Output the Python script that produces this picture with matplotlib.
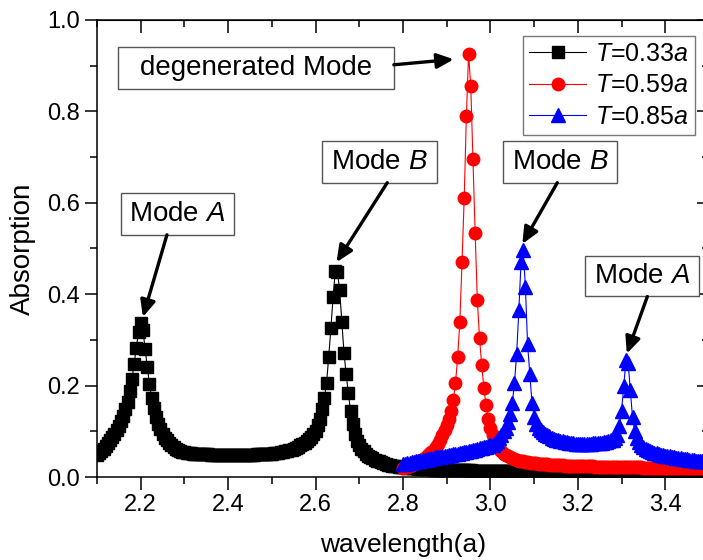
import matplotlib
matplotlib.use('Agg')
import matplotlib.pyplot as plt
from matplotlib.ticker import MultipleLocator
from matplotlib.patches import Rectangle
import numpy as np

plt.rcParams['font.family'] = ['Liberation Sans', 'DejaVu Sans']
plt.rcParams['mathtext.fontset'] = 'custom'
plt.rcParams['mathtext.rm'] = 'Liberation Sans'
plt.rcParams['mathtext.it'] = 'Liberation Sans:italic'

# sampling of the spectra (wavelength in units of a)
wl_step = 0.005
black_start = 2.100
red_start = 2.800
blue_start = 2.800

# T = 0.33a
absorb_033 = [
    0.048, 0.052, 0.056, 0.062, 0.068, 0.074, 0.080, 0.087, 0.094, 0.103,
    0.112, 0.122, 0.134, 0.148, 0.165, 0.188, 0.214, 0.248, 0.283, 0.318,
    0.338, 0.322, 0.280, 0.240, 0.204, 0.172, 0.150, 0.131, 0.116, 0.104,
    0.094, 0.086, 0.080, 0.074, 0.069, 0.065, 0.062, 0.059, 0.057, 0.055,
    0.054, 0.053, 0.052, 0.052, 0.051, 0.051, 0.051, 0.050, 0.050, 0.050,
    0.050, 0.050, 0.049, 0.049, 0.049, 0.049, 0.049, 0.049, 0.049, 0.049,
    0.049, 0.049, 0.049, 0.049, 0.049, 0.049, 0.049, 0.049, 0.049, 0.049,
    0.049, 0.049, 0.049, 0.050, 0.050, 0.050, 0.050, 0.050, 0.051, 0.051,
    0.051, 0.052, 0.052, 0.053, 0.054, 0.055, 0.056, 0.057, 0.058, 0.060,
    0.062, 0.064, 0.066, 0.069, 0.072, 0.075, 0.079, 0.083, 0.088, 0.094,
    0.100, 0.113, 0.128, 0.148, 0.172, 0.205, 0.262, 0.325, 0.393, 0.450,
    0.448, 0.410, 0.340, 0.272, 0.225, 0.183, 0.145, 0.115, 0.094, 0.079,
    0.070, 0.062, 0.056, 0.051, 0.047, 0.044, 0.041, 0.038, 0.036, 0.034,
    0.032, 0.030, 0.029, 0.027, 0.026, 0.025, 0.024, 0.023, 0.022, 0.022,
    0.021, 0.021, 0.020, 0.020, 0.019, 0.019, 0.019, 0.018, 0.018, 0.018,
    0.017, 0.017, 0.017, 0.017, 0.016, 0.016, 0.016, 0.016, 0.016, 0.015,
    0.015, 0.015, 0.015, 0.015, 0.015, 0.015, 0.015, 0.015, 0.015, 0.015,
    0.015, 0.015, 0.014, 0.014, 0.014, 0.014, 0.014, 0.014, 0.014, 0.014,
    0.014, 0.014, 0.014, 0.014, 0.014, 0.013, 0.013, 0.013, 0.013, 0.013,
    0.013, 0.013, 0.013, 0.013, 0.013, 0.013, 0.013, 0.013, 0.013, 0.013,
    0.013, 0.013, 0.013, 0.013, 0.013, 0.012, 0.012, 0.012, 0.012, 0.012,
    0.012, 0.012, 0.012, 0.012, 0.012, 0.012, 0.012, 0.012, 0.012, 0.012,
    0.012, 0.012, 0.012, 0.012, 0.012, 0.012, 0.012, 0.012, 0.012, 0.012,
    0.012, 0.012, 0.012, 0.012, 0.012, 0.011, 0.011, 0.011, 0.011, 0.011,
    0.011, 0.011, 0.011, 0.011, 0.011, 0.011, 0.011, 0.011, 0.011, 0.011,
    0.011, 0.011, 0.011, 0.011, 0.011, 0.011, 0.011, 0.011, 0.011, 0.011,
    0.011, 0.011, 0.011, 0.011, 0.011, 0.010, 0.010, 0.010, 0.010, 0.010,
    0.010, 0.010, 0.010, 0.010, 0.010, 0.010, 0.010, 0.010, 0.010, 0.010,
    0.010,
]

# T = 0.59a
absorb_059 = [
    0.020, 0.021, 0.022, 0.024, 0.026, 0.028, 0.031, 0.033, 0.036, 0.039,
    0.042, 0.046, 0.050, 0.055, 0.060, 0.066, 0.073, 0.081, 0.091, 0.102,
    0.114, 0.128, 0.145, 0.168, 0.205, 0.262, 0.340, 0.470, 0.610, 0.790,
    0.925, 0.856, 0.695, 0.535, 0.388, 0.305, 0.245, 0.195, 0.157, 0.128,
    0.108, 0.092, 0.080, 0.070, 0.062, 0.056, 0.051, 0.048, 0.045, 0.043,
    0.041, 0.039, 0.038, 0.036, 0.035, 0.034, 0.033, 0.032, 0.031, 0.031,
    0.030, 0.030, 0.029, 0.029, 0.028, 0.028, 0.028, 0.027, 0.027, 0.027,
    0.026, 0.026, 0.026, 0.026, 0.025, 0.025, 0.025, 0.025, 0.024, 0.024,
    0.024, 0.024, 0.024, 0.023, 0.023, 0.023, 0.023, 0.023, 0.022, 0.022,
    0.022, 0.022, 0.022, 0.022, 0.021, 0.021, 0.021, 0.021, 0.021, 0.021,
    0.021, 0.021, 0.021, 0.021, 0.021, 0.021, 0.021, 0.021, 0.021, 0.021,
    0.020, 0.020, 0.020, 0.020, 0.020, 0.020, 0.020, 0.020, 0.020, 0.020,
    0.020, 0.020, 0.020, 0.020, 0.020, 0.020, 0.020, 0.020, 0.020, 0.020,
    0.019, 0.019, 0.019, 0.019, 0.019, 0.019, 0.019, 0.019, 0.019, 0.019,
    0.019,
]

# T = 0.85a
absorb_085 = [
    0.028, 0.029, 0.030, 0.031, 0.032, 0.033, 0.034, 0.035, 0.036, 0.037,
    0.038, 0.039, 0.040, 0.041, 0.042, 0.043, 0.043, 0.044, 0.045, 0.046,
    0.047, 0.048, 0.049, 0.050, 0.050, 0.051, 0.052, 0.053, 0.054, 0.055,
    0.056, 0.057, 0.059, 0.060, 0.062, 0.063, 0.064, 0.065, 0.066, 0.067,
    0.069, 0.071, 0.075, 0.079, 0.085, 0.092, 0.100, 0.108, 0.120, 0.137,
    0.162, 0.205, 0.270, 0.365, 0.470, 0.497, 0.416, 0.290, 0.225, 0.163,
    0.132, 0.115, 0.107, 0.102, 0.098, 0.095, 0.092, 0.089, 0.086, 0.084,
    0.082, 0.080, 0.079, 0.078, 0.077, 0.076, 0.075, 0.074, 0.074, 0.073,
    0.073, 0.073, 0.073, 0.073, 0.073, 0.073, 0.073, 0.074, 0.074, 0.074,
    0.075, 0.075, 0.076, 0.077, 0.078, 0.080, 0.082, 0.086, 0.092, 0.112,
    0.145, 0.200, 0.255, 0.250, 0.190, 0.131, 0.100, 0.086, 0.077, 0.071,
    0.066, 0.062, 0.059, 0.057, 0.055, 0.053, 0.052, 0.050, 0.049, 0.048,
    0.047, 0.046, 0.045, 0.044, 0.043, 0.042, 0.041, 0.041, 0.040, 0.039,
    0.039, 0.038, 0.037, 0.037, 0.036, 0.036, 0.035, 0.035, 0.034, 0.034,
    0.033,
]

labels = [r'$\it{T}$=0.33$\it{a}$', r'$\it{T}$=0.59$\it{a}$', r'$\it{T}$=0.85$\it{a}$']

# annotation texts, their boxes (x0, x1, y0, y1) and arrows (start, tip), data coords
note_texts = ['degenerated Mode', r'Mode $\it{A}$', r'Mode $\it{B}$', r'Mode $\it{B}$', r'Mode $\it{A}$']
note_boxes = [
    (2.148, 2.779, 0.849, 0.941),
    (2.154, 2.414, 0.530, 0.621),
    (2.615, 2.877, 0.644, 0.736),
    (3.029, 3.289, 0.644, 0.735),
    (3.216, 3.476, 0.395, 0.484),
]
note_arrows = [
    ((2.779, 0.902), (2.916, 0.914)),
    ((2.260, 0.530), (2.205, 0.350)),
    ((2.764, 0.644), (2.648, 0.470)),
    ((3.153, 0.644), (3.073, 0.510)),
    ((3.359, 0.395), (3.312, 0.270)),
]

x_black = black_start + wl_step * np.arange(len(absorb_033))
x_red = red_start + wl_step * np.arange(len(absorb_059))
x_blue = blue_start + wl_step * np.arange(len(absorb_085))

fig = plt.figure(figsize=(7.03, 5.60), dpi=100)
ax = fig.add_axes([97 / 703, 83 / 560, 612 / 703, 457 / 560])

ax.plot(x_black, absorb_033, '-s', color='black', ms=8, lw=0.8, label=labels[0])
ax.plot(x_red, absorb_059, '-o', color='red', ms=9, lw=0.8, label=labels[1])
ax.plot(x_blue, absorb_085, '-^', color='blue', ms=10, lw=0.8, label=labels[2])

ax.set_xlim(2.1, 3.5)
ax.set_ylim(0, 1.0)
ax.set_xticks(np.arange(2.2, 3.45, 0.2))
ax.set_yticks(np.arange(0, 1.05, 0.2))
ax.xaxis.set_minor_locator(MultipleLocator(0.1))
ax.yaxis.set_minor_locator(MultipleLocator(0.1))
ax.yaxis.set_major_formatter(plt.FormatStrFormatter('%.1f'))
ax.xaxis.set_major_formatter(plt.FormatStrFormatter('%.1f'))
ax.tick_params(which='major', direction='out', length=9, width=1.1, labelsize=17)
ax.tick_params(which='minor', direction='out', length=5, width=1.1)
for s in ax.spines.values():
    s.set_linewidth(1.1)

# mirrored axes with inward ticks
top = ax.secondary_xaxis('top')
top.set_xticks(np.arange(2.2, 3.45, 0.2))
top.xaxis.set_minor_locator(MultipleLocator(0.1))
top.tick_params(which='major', direction='in', length=9, width=1.1, labeltop=False)
top.tick_params(which='minor', direction='in', length=5, width=1.1)
right = ax.secondary_yaxis('right')
right.set_yticks(np.arange(0, 1.05, 0.2))
right.yaxis.set_minor_locator(MultipleLocator(0.1))
right.tick_params(which='major', direction='in', length=9, width=1.1, labelright=False)
right.tick_params(which='minor', direction='in', length=5, width=1.1)

ax.set_xlabel('wavelength(a)', fontsize=19, labelpad=12)
ax.set_ylabel('Absorption', fontsize=20, labelpad=8)

for txt, (x0, x1, y0, y1), (start, tip) in zip(note_texts, note_boxes, note_arrows):
    ax.add_patch(Rectangle((x0, y0), x1 - x0, y1 - y0, fc='white', ec='#555555',
                           lw=1.0, zorder=5))
    ax.text((x0 + x1) / 2, (y0 + y1) / 2, txt, fontsize=20, ha='center',
            va='center', zorder=6)
    ax.annotate('', xy=tip, xytext=start, zorder=6,
                arrowprops=dict(arrowstyle='-|>,head_length=1.0,head_width=0.45',
                                color='black', lw=2.4, shrinkA=0, shrinkB=0))

leg = ax.legend(loc='upper right', bbox_to_anchor=(0.977, 0.966), borderaxespad=0,
                fontsize=18, frameon=True, fancybox=False, edgecolor='#555555',
                handlelength=2.3, handletextpad=0.35, labelspacing=0.3,
                borderpad=0.25)
leg.get_frame().set_linewidth(1.0)
leg.set_zorder(7)

fig.savefig('out.png', dpi=100)
